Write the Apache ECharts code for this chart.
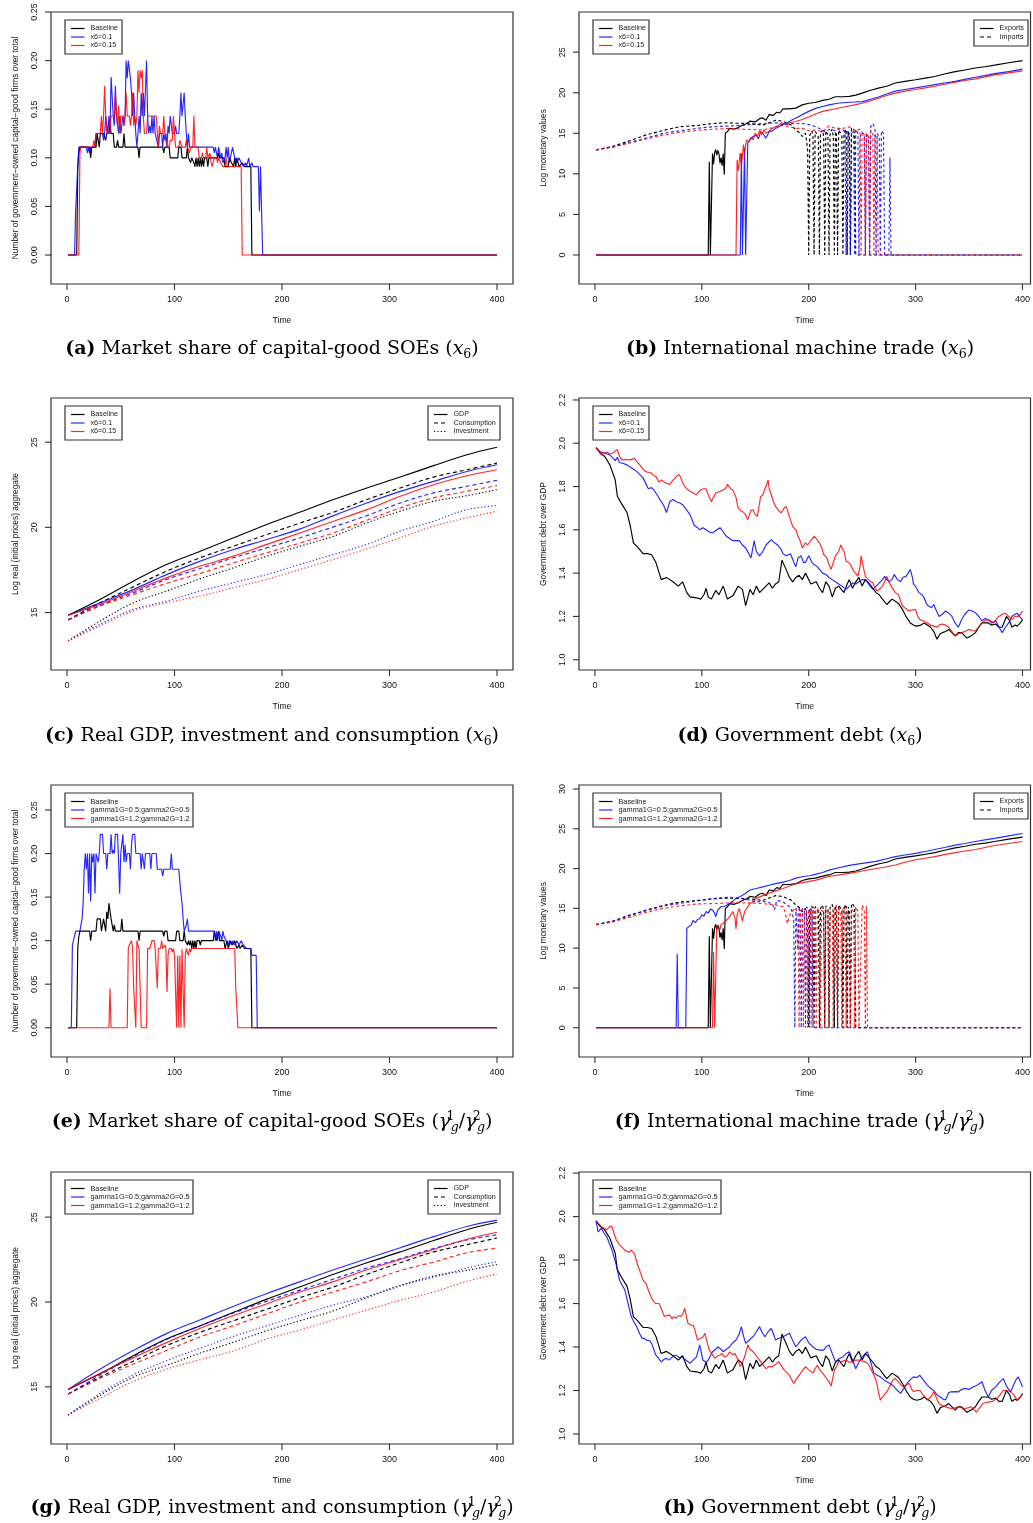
<!DOCTYPE html>
<html><head><meta charset="utf-8">
<script src="https://cdn.jsdelivr.net/npm/echarts@6/dist/echarts.min.js"></script>
<style>
html,body{margin:0;padding:0;background:#fff;}
.p{position:absolute;}
</style></head>
<body>
<div id="pa" class="p" style="left:0;top:0;width:520px;height:387px"></div>
<div id="pb" class="p" style="left:520px;top:0;width:513px;height:387px"></div>
<div id="pc" class="p" style="left:0;top:386px;width:520px;height:387px"></div>
<div id="pd" class="p" style="left:520px;top:386px;width:513px;height:387px"></div>
<div id="pe" class="p" style="left:0;top:773px;width:520px;height:387px"></div>
<div id="pf" class="p" style="left:520px;top:773px;width:513px;height:387px"></div>
<div id="pg" class="p" style="left:0;top:1160px;width:520px;height:363px"></div>
<div id="ph" class="p" style="left:520px;top:1160px;width:513px;height:363px"></div>
<script>
// ---------------- DATA ----------------
const xTicks = [0, 100, 200, 300, 400];
const shareTicks = [0, 0.05, 0.10, 0.15, 0.20, 0.25];
const tradeTicksB = [0, 5, 10, 15, 20, 25];
const tradeTicksF = [0, 5, 10, 15, 20, 25, 30];
const gdpTicks = [15, 20, 25];
const debtTicks = [1.0, 1.2, 1.4, 1.6, 1.8, 2.0, 2.2];

const scenX6 = ['Baseline', 'x6=0.1', 'x6=0.15'];
const scenG = ['Baseline', 'gamma1G=0.5;gamma2G=0.5', 'gamma1G=1.2;gamma2G=1.2'];
const tradeVars = ['Exports', 'Imports'];
const gdpVars = ['GDP', 'Consumption', 'Investment'];

// (a) market share of capital-good SOEs, x6
const shareBaseA = [[1,0],[9,0],[10,0.09],[11,0.105],[12,0.111],[21,0.111],[22,0.1],[23,0.111],[27,0.111],[28,0.125],[29,0.125],[30,0.111],[31,0.125],[34,0.125],[35,0.125],[36,0.118],[37,0.125],[39,0.125],[40,0.133],[41,0.125],[43,0.125],[44,0.111],[46,0.111],[47,0.118],[48,0.111],[52,0.111],[53,0.125],[54,0.111],[66,0.111],[67,0.1],[68,0.111],[89,0.111],[90,0.105],[91,0.111],[95,0.111],[96,0.1],[103,0.1],[104,0.111],[106,0.111],[107,0.1],[111,0.1],[112,0.111],[113,0.1],[115,0.095],[116,0.1],[118,0.095],[119,0.091],[120,0.1],[121,0.091],[122,0.1],[123,0.091],[124,0.1],[125,0.091],[126,0.1],[127,0.091],[128,0.1],[130,0.1],[131,0.091],[132,0.1],[140,0.1],[141,0.105],[142,0.1],[146,0.1],[147,0.091],[150,0.091],[151,0.1],[153,0.095],[155,0.091],[156,0.1],[157,0.091],[158,0.1],[160,0.091],[163,0.095],[165,0.091],[171,0.091],[172,0],[400,0]];
const shareX1A = [[1,0],[7,0],[8,0.045],[9,0.045],[10,0.091],[11,0.111],[18,0.111],[19,0.105],[20,0.111],[21,0.105],[22,0.111],[26,0.111],[27,0.125],[33,0.125],[34,0.118],[35,0.125],[36,0.143],[37,0.143],[38,0.125],[39,0.143],[40,0.125],[41,0.183],[42,0.183],[43,0.143],[44,0.133],[45,0.174],[46,0.143],[47,0.143],[48,0.125],[49,0.143],[50,0.125],[52,0.143],[53,0.133],[54,0.143],[55,0.2],[56,0.182],[57,0.2],[58,0.2],[59,0.182],[60,0.167],[61,0.143],[62,0.167],[63,0.143],[64,0.125],[65,0.111],[66,0.125],[67,0.143],[68,0.125],[69,0.167],[70,0.143],[71,0.167],[72,0.143],[74,0.2],[75,0.143],[76,0.125],[77,0.133],[78,0.125],[79,0.143],[80,0.125],[81,0.143],[82,0.125],[85,0.111],[86,0.125],[88,0.125],[89,0.111],[90,0.125],[91,0.118],[92,0.125],[93,0.111],[94,0.133],[95,0.125],[96,0.143],[97,0.143],[98,0.125],[100,0.125],[101,0.133],[102,0.125],[104,0.125],[105,0.143],[106,0.167],[107,0.143],[108,0.143],[109,0.167],[110,0.143],[111,0.125],[112,0.111],[113,0.125],[114,0.111],[136,0.111],[137,0.105],[138,0.111],[140,0.1],[141,0.111],[143,0.1],[144,0.105],[145,0.095],[147,0.1],[148,0.111],[149,0.1],[150,0.111],[151,0.095],[152,0.1],[154,0.111],[155,0.111],[156,0.1],[158,0.095],[160,0.1],[162,0.095],[164,0.091],[166,0.095],[167,0.091],[169,0.1],[170,0.091],[172,0.095],[173,0.091],[178,0.091],[179,0.045],[180,0.091],[181,0.091],[182,0],[400,0]];
const shareX2A = [[1,0],[11,0],[12,0.105],[13,0.111],[24,0.111],[25,0.118],[26,0.111],[27,0.125],[31,0.125],[32,0.143],[33,0.125],[34,0.143],[35,0.174],[36,0.143],[37,0.125],[40,0.125],[41,0.143],[44,0.143],[45,0.167],[46,0.143],[47,0.133],[48,0.154],[49,0.125],[50,0.143],[52,0.143],[53,0.133],[54,0.143],[55,0.167],[56,0.143],[58,0.143],[59,0.133],[60,0.143],[61,0.167],[62,0.133],[63,0.143],[64,0.133],[65,0.143],[66,0.19],[67,0.167],[68,0.19],[69,0.182],[70,0.19],[71,0.143],[72,0.125],[74,0.125],[75,0.143],[83,0.143],[84,0.125],[85,0.111],[86,0.133],[87,0.125],[89,0.125],[90,0.143],[91,0.125],[93,0.111],[95,0.111],[96,0.118],[98,0.118],[99,0.143],[100,0.125],[101,0.111],[104,0.111],[105,0.118],[107,0.111],[110,0.111],[111,0.118],[112,0.111],[114,0.105],[115,0.111],[117,0.111],[118,0.143],[119,0.111],[122,0.111],[123,0.1],[125,0.1],[126,0.105],[127,0.1],[129,0.1],[130,0.111],[131,0.1],[133,0.105],[134,0.095],[135,0.091],[137,0.1],[139,0.1],[140,0.095],[141,0.1],[143,0.095],[145,0.091],[147,0.091],[148,0.1],[149,0.091],[162,0.091],[163,0],[400,0]];

// (e) market share, gamma
const shareBaseE = [[1,0],[9,0],[10,0.091],[11,0.105],[12,0.111],[21,0.111],[22,0.1],[23,0.111],[27,0.111],[28,0.125],[31,0.125],[32,0.111],[33,0.111],[34,0.125],[35,0.125],[36,0.111],[37,0.133],[38,0.125],[39,0.143],[40,0.143],[41,0.125],[42,0.118],[43,0.111],[44,0.118],[45,0.111],[50,0.111],[51,0.125],[52,0.111],[66,0.111],[67,0.1],[68,0.111],[89,0.111],[90,0.105],[91,0.111],[93,0.111],[94,0.1],[101,0.1],[102,0.111],[104,0.111],[105,0.1],[108,0.1],[109,0.111],[110,0.1],[112,0.095],[113,0.1],[114,0.095],[115,0.1],[116,0.091],[117,0.1],[118,0.091],[119,0.1],[120,0.091],[121,0.1],[123,0.1],[124,0.095],[125,0.1],[136,0.1],[137,0.111],[138,0.105],[139,0.1],[140,0.1],[141,0.111],[142,0.1],[146,0.1],[147,0.091],[149,0.1],[150,0.091],[152,0.1],[154,0.095],[156,0.1],[158,0.091],[160,0.095],[161,0.091],[163,0.095],[165,0.091],[171,0.091],[172,0],[400,0]];
const shareG05E = [[1,0],[4,0],[5,0.095],[6,0.1],[8,0.111],[12,0.111],[13,0.118],[14,0.125],[15,0.143],[16,0.182],[17,0.2],[18,0.182],[19,0.2],[20,0.154],[21,0.2],[22,0.145],[23,0.2],[24,0.19],[25,0.2],[26,0.154],[27,0.2],[28,0.2],[29,0.19],[30,0.2],[31,0.222],[33,0.222],[34,0.2],[36,0.2],[37,0.182],[38,0.2],[40,0.2],[41,0.222],[42,0.2],[43,0.204],[44,0.2],[45,0.222],[47,0.222],[48,0.19],[49,0.154],[50,0.2],[51,0.2],[52,0.222],[53,0.19],[54,0.21],[55,0.19],[56,0.2],[58,0.2],[59,0.182],[60,0.21],[61,0.222],[63,0.222],[64,0.2],[68,0.2],[69,0.182],[70,0.2],[72,0.182],[73,0.2],[77,0.2],[78,0.182],[79,0.2],[83,0.2],[84,0.182],[88,0.182],[89,0.174],[90,0.182],[96,0.182],[97,0.2],[98,0.182],[104,0.182],[105,0.167],[106,0.154],[107,0.143],[108,0.125],[109,0.111],[110,0.111],[111,0.118],[112,0.125],[113,0.111],[137,0.111],[138,0.1],[139,0.111],[140,0.1],[141,0.111],[143,0.105],[144,0.1],[145,0.111],[146,0.105],[148,0.1],[150,0.095],[151,0.1],[153,0.095],[154,0.1],[156,0.095],[158,0.1],[160,0.095],[162,0.1],[164,0.095],[167,0.091],[171,0.091],[172,0.083],[176,0.083],[177,0],[400,0]];
const shareG12E = [[1,0],[39,0],[40,0.045],[41,0],[56,0],[57,0.091],[58,0.095],[60,0.1],[61,0.091],[62,0.045],[63,0.045],[64,0],[65,0.1],[66,0.095],[67,0.091],[68,0.091],[69,0],[74,0],[75,0.091],[77,0.091],[79,0.1],[81,0.1],[82,0.091],[83,0.091],[84,0.045],[85,0.091],[87,0.091],[88,0.1],[89,0.091],[91,0.095],[92,0.091],[93,0.041],[94,0.083],[95,0.091],[97,0.091],[98,0.087],[99,0.091],[100,0.083],[101,0.083],[102,0],[103,0.083],[104,0],[105,0.083],[106,0],[107,0.09],[108,0.09],[109,0],[110,0.083],[111,0.091],[112,0.087],[113,0.083],[114,0.091],[115,0.087],[116,0.091],[156,0.091],[157,0.045],[158,0.045],[159,0],[400,0]];

// (b)/(f) international machine trade, log values
const exBase = [[1,0],[106,0],[107,11.5],[108,0],[109,0],[110,12.5],[111,11.2],[112,12.6],[113,13.0],[114,12.3],[115,12.9],[116,12.5],[117,11.3],[118,12.0],[119,11.0],[120,12.5],[121,9.9],[122,15.0],[124,15.2],[126,15.6],[130,15.5],[134,15.7],[138,16.0],[142,16.2],[145,16.5],[150,16.4],[154,16.8],[157,16.9],[160,16.6],[163,17.3],[167,17.2],[170,17.6],[173,17.5],[176,18.0],[182,18.0],[188,18.1],[194,18.5],[200,18.7],[206,18.8],[213,19.05],[219,19.2],[225,19.5],[232,19.5],[238,19.55],[244,19.7],[250,19.95],[258,20.3],[266,20.6],[273,20.8],[281,21.2],[290,21.4],[300,21.6],[309,21.8],[318,22.0],[327,22.3],[337,22.6],[346,22.8],[356,23.05],[365,23.2],[374,23.4],[387,23.7],[400,23.95]];
const imBase = [[1,12.95],[17,13.4],[33,14.1],[48,14.8],[64,15.35],[79,15.8],[95,15.95],[110,16.2],[123,16.3],[132,16.25],[145,16.2],[157,16.0],[163,16.3],[169,16.6],[175,16.5],[179,16.3],[184,16.0],[188,15.4],[192,15.0],[194,14.6],[197,15.0],[199,13.0],[200,0],[201,14.8],[203,15.3],[204,14.6],[205,0],[206,15.2],[208,14.9],[209,14.5],[210,0],[211,15.0],[213,15.4],[214,14.6],[215,0],[216,15.3],[218,14.8],[219,0],[220,15.1],[222,15.5],[223,14.5],[224,0],[225,15.2],[226,14.8],[227,0],[228,15.4],[230,15.0],[231,14.6],[232,0],[233,15.0],[235,15.5],[236,0],[237,15.2],[238,14.6],[239,0],[240,15.6],[242,15.4],[243,14.8],[244,0],[400,0]];
const exX1 = [[1,0],[136,0],[137,12.5],[138,0],[139,0],[140,13.2],[141,0],[142,0],[143,13.8],[145,14.2],[148,14.6],[151,14.8],[153,14.3],[155,15.2],[157,15.0],[160,14.4],[163,15.2],[166,15.3],[169,15.6],[172,15.8],[176,16.05],[180,16.3],[185,16.7],[190,17.0],[194,17.3],[200,17.7],[207,18.1],[213,18.3],[219,18.5],[227,18.7],[235,18.8],[243,18.85],[250,18.9],[258,19.2],[266,19.5],[273,19.85],[281,20.2],[290,20.4],[300,20.6],[309,20.8],[318,21.0],[327,21.2],[337,21.4],[346,21.65],[356,21.9],[365,22.1],[374,22.35],[387,22.6],[400,22.9]];
const imX1 = [[1,12.95],[17,13.35],[33,13.9],[48,14.4],[64,15.0],[79,15.3],[95,15.6],[110,15.8],[126,15.9],[140,16.0],[157,16.2],[170,16.3],[176,16.05],[185,16.2],[194,16.2],[203,16.0],[210,15.6],[215,15.2],[220,15.5],[225,15.3],[230,15.6],[234,15.2],[235,0],[236,15.4],[238,15.0],[239,0],[240,15.3],[242,14.8],[243,0],[244,15.5],[246,15.0],[247,0],[248,14.5],[250,15.2],[252,14.6],[253,0],[254,15.0],[256,14.5],[257,0],[258,15.8],[260,16.2],[262,15.6],[263,0],[264,15.0],[266,14.5],[267,0],[268,15.3],[270,15.0],[271,0],[275,0],[276,12.0],[277,0],[400,0]];
const exX2 = [[1,0],[132,0],[133,11.7],[134,10.4],[135,11.5],[136,12.6],[137,11.0],[138,12.2],[139,13.6],[140,12.4],[141,13.5],[142,14.2],[144,13.9],[146,14.5],[148,14.2],[150,15.0],[152,14.6],[154,15.3],[156,14.8],[158,15.4],[160,15.0],[163,15.3],[166,15.6],[169,15.8],[172,16.0],[175,16.3],[178,16.1],[182,16.3],[188,16.45],[194,16.7],[200,17.0],[207,17.4],[213,17.7],[224,18.0],[235,18.3],[243,18.5],[250,18.7],[258,19.0],[266,19.35],[273,19.65],[281,19.95],[290,20.2],[300,20.4],[309,20.6],[318,20.8],[327,21.05],[337,21.3],[346,21.5],[356,21.7],[365,21.95],[374,22.2],[387,22.45],[400,22.7]];
const imX2 = [[1,12.95],[17,13.3],[33,13.8],[48,14.3],[64,14.8],[79,15.1],[95,15.35],[110,15.5],[126,15.6],[140,15.5],[157,15.4],[170,15.8],[176,16.0],[182,15.8],[188,15.6],[194,15.6],[200,15.3],[207,15.4],[213,15.2],[219,15.9],[225,15.6],[232,15.6],[238,15.8],[244,15.3],[248,15.5],[249,0],[250,15.2],[252,14.8],[253,0],[254,15.0],[256,14.7],[257,0],[258,15.4],[260,15.0],[261,0],[262,14.8],[264,14.2],[265,0],[400,0]];
const exG05 = [[1,0],[76,0],[77,9.3],[78,0],[85,0],[86,12.5],[88,12.7],[90,12.9],[92,13.5],[94,13.2],[96,13.6],[98,13.7],[100,14.2],[102,14.0],[104,14.6],[106,14.4],[108,14.9],[110,14.8],[112,14.4],[113,13.95],[115,14.8],[118,15.2],[122,15.3],[126,15.6],[129,15.9],[132,16.25],[136,16.5],[140,16.8],[145,17.3],[151,17.5],[157,17.7],[163,17.9],[169,18.1],[176,18.3],[182,18.5],[188,18.8],[195,19.0],[201,19.1],[207,19.3],[213,19.5],[219,19.8],[228,20.1],[238,20.4],[250,20.65],[263,20.9],[272,21.2],[281,21.5],[290,21.7],[300,21.9],[309,22.15],[318,22.4],[327,22.65],[337,22.95],[346,23.15],[356,23.4],[365,23.6],[374,23.8],[387,24.1],[400,24.4]];
const imG05 = [[1,12.95],[17,13.4],[33,14.2],[48,14.7],[64,15.3],[79,15.6],[95,15.95],[113,16.25],[126,16.4],[138,16.25],[145,16.0],[151,15.8],[157,15.9],[163,15.7],[166,15.6],[168,14.8],[170,16.0],[174,15.9],[176,15.8],[179,15.5],[182,15.2],[184,14.8],[186,13.5],[187,0],[188,15.0],[189,12.0],[190,9.8],[191,15.2],[192,14.5],[193,0],[194,15.0],[196,14.6],[197,0],[198,15.2],[200,14.8],[201,0],[202,15.0],[203,14.5],[204,0],[400,0]];
const exG12 = [[1,0],[110,0],[111,9.5],[112,0],[113,0],[114,12.5],[115,12.8],[117,12.3],[118,13.0],[120,13.1],[123,13.5],[126,13.95],[129,14.6],[131,13.8],[132,12.4],[133,14.2],[135,15.0],[137,14.0],[138,13.4],[140,14.6],[142,15.0],[145,15.6],[148,15.8],[151,16.25],[157,16.6],[163,16.9],[169,17.2],[176,17.5],[182,17.8],[188,18.1],[197,18.3],[207,18.55],[213,18.8],[219,19.0],[228,19.2],[238,19.4],[250,19.7],[263,20.0],[272,20.2],[281,20.45],[290,20.8],[300,21.1],[309,21.3],[318,21.5],[327,21.75],[337,22.0],[346,22.2],[356,22.4],[365,22.65],[374,22.9],[387,23.15],[400,23.4]];
const imG12 = [[1,12.95],[17,13.3],[33,13.9],[48,14.5],[64,15.0],[79,15.3],[95,15.55],[110,15.6],[126,15.7],[141,15.7],[157,15.6],[170,15.4],[176,15.2],[178,14.5],[180,13.1],[182,14.0],[184,14.6],[188,15.0],[190,14.2],[191,0],[192,14.8],[194,14.5],[195,0],[196,15.0],[198,14.6],[199,0],[200,14.8],[202,14.4],[203,0],[204,15.2],[206,14.8],[207,0],[208,15.0],[210,14.6],[211,0],[212,14.8],[214,14.4],[215,0],[216,15.0],[218,14.7],[219,0],[220,14.6],[222,14.2],[223,0],[224,15.2],[226,15.4],[227,0],[228,15.0],[230,14.5],[231,0],[232,15.2],[234,14.8],[235,0],[236,14.5],[238,14.0],[239,0],[240,15.0],[242,14.6],[243,0],[244,15.2],[246,14.6],[247,0],[250,15.4],[252,14.8],[253,0],[254,15.3],[255,0],[400,0]];

// (c)/(g) log real aggregates, read at these times
const gdpT = [1, 31, 62, 93, 124, 155, 186, 217, 248, 279, 310, 341, 372, 400];
const gdpBase = [14.84,15.78,16.85,17.83,18.6,19.39,20.17,20.9,21.63,22.31,22.95,23.62,24.26,24.7];
const conBase = [14.57,15.58,16.52,17.44,18.22,18.9,19.58,20.26,20.89,21.63,22.31,22.95,23.38,23.77];
const invBase = [13.34,14.51,15.58,16.27,16.99,17.63,18.31,18.9,19.48,20.26,20.95,21.53,21.86,22.21];
const gdpX1 = [14.84,15.58,16.36,17.24,18.02,18.7,19.29,19.91,20.69,21.43,22.11,22.7,23.28,23.67];
const conX1 = [14.57,15.43,16.17,16.95,17.59,18.22,18.8,19.39,20.03,20.69,21.43,22.02,22.41,22.76];
const invX1 = [13.34,14.32,15.19,15.68,16.27,16.75,17.24,17.83,18.41,19.0,19.78,20.36,21.04,21.28];
const gdpX2 = [14.84,15.49,16.27,17.05,17.73,18.31,19.0,19.68,20.36,21.04,21.82,22.5,23.03,23.38];
const conX2 = [14.57,15.39,16.07,16.72,17.3,17.92,18.51,19.09,19.68,20.42,21.14,21.73,22.12,22.45];
const invX2 = [13.34,14.22,15.1,15.58,15.97,16.46,16.95,17.53,18.12,18.74,19.39,20.07,20.56,20.95];
const gdpG05 = [14.84,16.05,17.15,18.15,18.95,19.75,20.5,21.2,21.9,22.55,23.2,23.85,24.45,24.82];
const conG05 = [14.57,15.7,16.8,17.8,18.6,19.35,20.05,20.7,21.35,22.0,22.55,23.15,23.65,23.96];
const invG05 = [13.34,14.62,15.72,16.55,17.28,17.98,18.6,19.22,19.82,20.32,20.98,21.45,22.0,22.38];
const gdpG12 = [14.84,15.8,16.72,17.62,18.45,19.2,19.9,20.6,21.2,21.9,22.5,23.1,23.7,24.11];
const conG12 = [14.57,15.5,16.35,17.15,17.95,18.6,19.3,20.0,20.6,21.2,21.85,22.35,22.9,23.17];
const invG12 = [13.34,14.33,15.33,16.05,16.6,17.12,17.82,18.35,18.95,19.53,20.1,20.58,21.22,21.65];

// (d)/(h) government debt over GDP
const debtBase = [[1,1.98],[5,1.954],[9,1.94],[14,1.90],[19,1.83],[21,1.755],[25,1.72],[30,1.68],[33,1.62],[36,1.54],[40,1.52],[45,1.49],[49,1.49],[53,1.485],[57,1.45],[62,1.37],[67,1.38],[70,1.37],[73,1.36],[78,1.34],[82,1.36],[86,1.31],[89,1.29],[95,1.286],[99,1.28],[102,1.3],[104,1.33],[106,1.29],[109,1.28],[113,1.32],[116,1.3],[120,1.34],[124,1.28],[129,1.295],[134,1.34],[138,1.325],[141,1.25],[145,1.325],[148,1.3],[151,1.34],[154,1.31],[157,1.325],[160,1.34],[163,1.355],[166,1.33],[169,1.35],[172,1.36],[175,1.46],[179,1.415],[182,1.38],[185,1.36],[188,1.38],[191,1.39],[194,1.37],[197,1.40],[202,1.35],[207,1.36],[210,1.33],[213,1.31],[216,1.36],[219,1.34],[222,1.29],[225,1.33],[228,1.34],[233,1.31],[236,1.35],[238,1.37],[241,1.33],[244,1.36],[247,1.38],[250,1.34],[253,1.37],[256,1.355],[260,1.33],[263,1.31],[266,1.3],[269,1.28],[273,1.255],[276,1.27],[278,1.28],[281,1.27],[284,1.26],[288,1.23],[291,1.20],[295,1.17],[298,1.16],[301,1.155],[305,1.16],[308,1.17],[311,1.16],[314,1.15],[317,1.13],[320,1.095],[323,1.12],[325,1.125],[328,1.13],[331,1.14],[334,1.125],[337,1.11],[340,1.125],[343,1.125],[346,1.11],[348,1.10],[352,1.11],[356,1.125],[359,1.15],[362,1.17],[365,1.17],[368,1.17],[371,1.16],[375,1.165],[378,1.15],[381,1.15],[385,1.20],[388,1.18],[390,1.15],[393,1.16],[395,1.155],[398,1.17],[400,1.185]];
const debtX1 = [[1,1.98],[5,1.96],[9,1.955],[14,1.946],[17,1.93],[19,1.92],[21,1.935],[23,1.91],[26,1.908],[30,1.9],[33,1.89],[36,1.88],[39,1.87],[42,1.855],[45,1.84],[48,1.81],[50,1.79],[53,1.795],[55,1.785],[59,1.755],[62,1.73],[64,1.716],[67,1.68],[70,1.73],[73,1.74],[76,1.73],[79,1.725],[82,1.716],[86,1.69],[89,1.67],[93,1.62],[96,1.61],[98,1.60],[101,1.61],[104,1.60],[107,1.59],[110,1.585],[114,1.6],[117,1.61],[120,1.59],[123,1.57],[126,1.56],[129,1.55],[132,1.55],[135,1.55],[138,1.53],[141,1.516],[144,1.49],[146,1.47],[149,1.55],[151,1.50],[154,1.48],[157,1.5],[160,1.53],[163,1.545],[165,1.555],[168,1.54],[171,1.53],[174,1.51],[176,1.49],[179,1.48],[183,1.49],[186,1.45],[188,1.43],[190,1.47],[193,1.48],[195,1.45],[197,1.45],[200,1.48],[203,1.45],[205,1.44],[208,1.43],[210,1.417],[213,1.40],[216,1.394],[219,1.38],[222,1.37],[225,1.36],[228,1.35],[231,1.34],[235,1.325],[238,1.34],[241,1.355],[244,1.35],[247,1.36],[250,1.37],[253,1.37],[256,1.35],[260,1.325],[263,1.34],[266,1.355],[269,1.37],[271,1.385],[273,1.37],[275,1.36],[278,1.37],[280,1.394],[283,1.37],[286,1.36],[288,1.38],[291,1.385],[293,1.4],[295,1.417],[297,1.38],[298,1.35],[301,1.33],[303,1.31],[306,1.3],[308,1.286],[310,1.26],[312,1.248],[315,1.24],[317,1.255],[320,1.22],[322,1.20],[325,1.21],[328,1.225],[331,1.215],[334,1.20],[337,1.17],[340,1.15],[343,1.185],[346,1.21],[350,1.23],[353,1.225],[356,1.217],[359,1.2],[362,1.18],[365,1.19],[368,1.185],[371,1.17],[375,1.18],[378,1.15],[381,1.125],[384,1.15],[387,1.17],[390,1.2],[393,1.21],[395,1.215],[397,1.2],[400,1.185]];
const debtX2 = [[1,1.98],[4,1.96],[6,1.946],[9,1.955],[11,1.96],[14,1.95],[17,1.955],[19,1.965],[21,1.97],[23,1.94],[25,1.923],[29,1.925],[33,1.923],[37,1.93],[40,1.91],[42,1.90],[45,1.88],[47,1.87],[50,1.865],[53,1.862],[55,1.85],[57,1.847],[60,1.82],[62,1.83],[64,1.823],[67,1.815],[70,1.81],[73,1.83],[75,1.84],[77,1.85],[79,1.855],[82,1.82],[84,1.80],[87,1.785],[89,1.778],[92,1.77],[95,1.762],[97,1.775],[99,1.785],[102,1.79],[104,1.79],[107,1.75],[109,1.73],[111,1.75],[113,1.77],[116,1.775],[120,1.785],[122,1.79],[124,1.81],[127,1.79],[129,1.785],[132,1.75],[134,1.70],[136,1.69],[138,1.685],[141,1.67],[143,1.647],[146,1.69],[148,1.693],[150,1.67],[152,1.662],[155,1.754],[157,1.76],[159,1.79],[160,1.80],[162,1.83],[163,1.79],[165,1.762],[167,1.73],[169,1.708],[172,1.69],[174,1.678],[177,1.70],[179,1.708],[182,1.66],[185,1.616],[188,1.60],[190,1.57],[192,1.55],[194,1.516],[197,1.54],[199,1.53],[202,1.55],[205,1.57],[207,1.56],[210,1.54],[212,1.52],[214,1.486],[217,1.47],[219,1.44],[221,1.417],[223,1.45],[225,1.48],[228,1.50],[230,1.53],[233,1.50],[235,1.455],[237,1.45],[239,1.44],[242,1.41],[244,1.40],[246,1.385],[248,1.43],[249,1.48],[251,1.43],[253,1.385],[256,1.37],[258,1.36],[260,1.355],[262,1.33],[264,1.317],[267,1.33],[269,1.34],[271,1.36],[273,1.385],[275,1.36],[278,1.333],[281,1.31],[284,1.30],[286,1.27],[288,1.248],[291,1.235],[294,1.225],[297,1.23],[300,1.232],[302,1.2],[304,1.185],[307,1.18],[311,1.17],[314,1.16],[317,1.155],[320,1.15],[322,1.16],[325,1.165],[328,1.16],[331,1.15],[334,1.13],[337,1.11],[340,1.12],[343,1.125],[346,1.13],[350,1.14],[353,1.135],[356,1.133],[359,1.15],[362,1.17],[365,1.18],[367,1.185],[370,1.18],[373,1.17],[376,1.19],[378,1.20],[381,1.21],[384,1.215],[387,1.20],[390,1.185],[393,1.2],[396,1.20],[398,1.21],[400,1.225]];
const debtG05 = [[1,1.98],[3,1.93],[6,1.946],[9,1.92],[11,1.908],[14,1.87],[16,1.846],[18,1.81],[20,1.777],[23,1.708],[26,1.68],[28,1.662],[31,1.60],[34,1.54],[36,1.52],[39,1.494],[42,1.46],[44,1.44],[46,1.44],[48,1.432],[51,1.43],[53,1.417],[55,1.39],[57,1.363],[60,1.345],[62,1.332],[65,1.345],[67,1.348],[69,1.34],[71,1.348],[74,1.36],[76,1.363],[79,1.35],[82,1.355],[85,1.34],[89,1.325],[92,1.34],[95,1.355],[98,1.41],[101,1.34],[104,1.33],[106,1.34],[108,1.36],[110,1.378],[113,1.39],[115,1.40],[118,1.39],[120,1.378],[123,1.39],[126,1.40],[129,1.42],[132,1.432],[135,1.46],[137,1.494],[139,1.45],[141,1.417],[144,1.43],[146,1.44],[148,1.447],[151,1.47],[154,1.494],[156,1.47],[159,1.447],[162,1.47],[165,1.486],[167,1.46],[169,1.432],[172,1.44],[176,1.447],[179,1.455],[182,1.463],[185,1.43],[188,1.40],[191,1.42],[193,1.432],[195,1.44],[197,1.447],[200,1.42],[204,1.40],[207,1.39],[210,1.386],[214,1.386],[216,1.40],[219,1.41],[222,1.37],[225,1.332],[228,1.345],[232,1.355],[235,1.37],[238,1.378],[241,1.34],[244,1.30],[247,1.33],[250,1.355],[253,1.37],[255,1.378],[258,1.33],[261,1.28],[264,1.27],[267,1.263],[270,1.25],[273,1.24],[277,1.23],[280,1.217],[283,1.20],[286,1.187],[289,1.21],[292,1.232],[295,1.25],[298,1.263],[301,1.26],[304,1.27],[307,1.25],[311,1.225],[314,1.21],[317,1.20],[320,1.18],[323,1.17],[326,1.16],[328,1.156],[331,1.19],[333,1.194],[337,1.195],[340,1.194],[343,1.205],[346,1.21],[350,1.205],[354,1.217],[358,1.225],[362,1.24],[365,1.2],[368,1.17],[371,1.2],[375,1.217],[378,1.235],[382,1.255],[385,1.22],[389,1.194],[392,1.23],[394,1.25],[396,1.263],[398,1.24],[400,1.217]];
const debtG12 = [[1,1.98],[4,1.965],[6,1.954],[9,1.945],[11,1.94],[14,1.955],[16,1.954],[18,1.92],[20,1.892],[23,1.87],[25,1.862],[28,1.845],[30,1.84],[32,1.835],[34,1.846],[37,1.83],[40,1.777],[42,1.75],[45,1.708],[48,1.69],[50,1.662],[53,1.624],[55,1.61],[57,1.60],[60,1.60],[62,1.578],[65,1.54],[67,1.545],[70,1.547],[72,1.53],[74,1.54],[76,1.532],[78,1.545],[80,1.54],[82,1.55],[84,1.578],[87,1.509],[90,1.50],[92,1.50],[94,1.47],[96,1.432],[99,1.44],[101,1.445],[103,1.463],[105,1.42],[107,1.386],[110,1.365],[112,1.348],[115,1.36],[117,1.363],[119,1.37],[121,1.355],[124,1.36],[126,1.378],[129,1.365],[131,1.37],[134,1.34],[136,1.31],[138,1.33],[140,1.355],[143,1.41],[145,1.39],[148,1.378],[151,1.36],[154,1.34],[157,1.32],[160,1.30],[163,1.31],[166,1.31],[169,1.32],[172,1.332],[175,1.31],[177,1.294],[180,1.28],[182,1.27],[184,1.25],[186,1.232],[188,1.25],[191,1.27],[194,1.29],[197,1.31],[200,1.295],[204,1.28],[206,1.30],[208,1.317],[211,1.29],[213,1.28],[216,1.26],[219,1.24],[221,1.22],[224,1.294],[226,1.31],[228,1.332],[232,1.335],[235,1.34],[238,1.33],[241,1.332],[244,1.34],[247,1.34],[250,1.335],[253,1.332],[256,1.32],[258,1.30],[261,1.27],[263,1.248],[265,1.2],[267,1.156],[269,1.17],[272,1.187],[275,1.21],[277,1.232],[279,1.25],[281,1.255],[284,1.24],[288,1.217],[291,1.225],[294,1.232],[296,1.21],[298,1.194],[301,1.2],[304,1.20],[307,1.18],[311,1.156],[314,1.17],[317,1.194],[320,1.16],[322,1.14],[325,1.13],[328,1.125],[331,1.12],[334,1.117],[337,1.12],[340,1.125],[343,1.12],[346,1.117],[349,1.12],[352,1.125],[355,1.11],[357,1.10],[360,1.12],[363,1.14],[366,1.145],[369,1.148],[372,1.15],[376,1.163],[379,1.18],[382,1.20],[385,1.20],[389,1.194],[392,1.18],[395,1.156],[398,1.17],[400,1.187]];

// ---------------- STYLE / BUILD ----------------
const SANS = '"Liberation Sans", Arial, Helvetica, sans-serif';
const SERIF = '"DejaVu Serif", "Liberation Serif", serif';
const CAPFS = 19, CAPSM = 12.5;
const BLACK = '#000000', BLUE = 'rgba(0,0,255,0.85)', RED = 'rgba(255,0,0,0.85)';
const SOLID = 'solid', DASH = [4, 3], DOT = [1.2, 2.2], IMPDASH = [3, 2.5];
const zipT = (ts, vs) => ts.map((t, i) => [t, vs[i]]);

const capRich = {
  b: {fontFamily: SERIF, fontSize: CAPFS, fontWeight: 'bold', fill: '#000'},
  i: {fontFamily: SERIF, fontSize: CAPFS, fontStyle: 'italic', fill: '#000'},
  sub: {fontFamily: SERIF, fontSize: CAPSM, fontStyle: 'italic', fill: '#000', verticalAlign: 'bottom', lineHeight: 13},
  subn: {fontFamily: SERIF, fontSize: CAPSM, fill: '#000', verticalAlign: 'bottom', lineHeight: 13},
  sup: {fontFamily: SERIF, fontSize: CAPSM, fill: '#000', verticalAlign: 'top', lineHeight: 13, width: 0.5}
};
const X6 = '({i|x}{subn|6})';
const GAM = '({i|γ}{sup|1}{sub|g}/{i|γ}{sup|2}{sub|g})';

function legend(x, y, w, h, labels, colors, dashes, fs) {
  const out = [{type: 'rect', shape: {x: x, y: y, width: w, height: h}, style: {fill: '#fff', stroke: '#333', lineWidth: 1.2}, z: 100}];
  labels.forEach((lab, i) => {
    const yy = y + 8.5 + i * 8.5;
    out.push({type: 'line', shape: {x1: x + 6, y1: yy, x2: x + 19.5, y2: yy}, style: {stroke: colors[i], lineWidth: 1.2, lineDash: dashes[i] === SOLID ? null : dashes[i]}, z: 101});
    out.push({type: 'text', x: x + 25.5, y: yy, style: {text: lab, fontSize: fs, fontFamily: SANS, fill: '#222', align: 'left', verticalAlign: 'middle'}, z: 101});
  });
  return out;
}

function line(data, color, dash, smooth) {
  return {type: 'line', data: data, showSymbol: false, symbol: 'none', silent: true, animation: false, smooth: smooth || false,
    lineStyle: {color: color, width: 1.15, type: dash}, emphasis: {disabled: true}};
}

// outward tick marks, positioned through the axes' own scales
function tickSeries(vals, isX, xmin, ymin) {
  return {type: 'custom', silent: true, clip: false, animation: false, z: 1,
    data: vals.map(v => [v]),
    renderItem: function (params, api) {
      const v = api.value(0);
      const p = isX ? api.coord([v, ymin]) : api.coord([xmin, v]);
      const shape = isX ? {x1: p[0], y1: p[1], x2: p[0], y2: p[1] + 6} : {x1: p[0] - 6, y1: p[1], x2: p[0], y2: p[1]};
      return {type: 'line', shape: shape, style: {stroke: '#333', lineWidth: 1.1, fill: null}};
    }};
}

function panel(id, cfg) {
  const right = cfg.right;
  const chart = echarts.init(document.getElementById(id), null, {renderer: 'canvas'});
  const gl = right ? 59 : 51, gw = right ? 453 : 462, gt = 12, gh = 272;
  const xmin = -14.9, xmax = right ? 407.5 : 414.9;
  const axisTxt = {fontFamily: SANS, fontSize: 9, color: '#111'};
  const cap = {type: 'text', x: right ? 280 : 272, y: cfg.capY || 349, z: 100,
    style: {text: cfg.caption, rich: capRich, fontFamily: SERIF, fontSize: CAPFS, fill: '#000', align: 'center', verticalAlign: 'middle', lineHeight: 24}};
  const option = {
    animation: false,
    grid: {left: gl, top: gt, width: gw, height: gh, show: true, borderColor: '#333', borderWidth: 1.2},
    xAxis: {type: 'value', min: xmin, max: xmax, position: 'bottom',
      axisLine: {show: false, onZero: false}, splitLine: {show: false}, axisTick: {show: false},
      axisLabel: Object.assign({customValues: xTicks, margin: 11}, axisTxt),
      name: 'Time', nameLocation: 'middle', nameGap: 32,
      nameTextStyle: {fontFamily: SANS, fontSize: 8.6, color: '#111'}},
    yAxis: {type: 'value', min: cfg.ymin, max: cfg.ymax, position: 'left',
      axisLine: {show: false, onZero: false}, splitLine: {show: false}, axisTick: {show: false},
      axisLabel: Object.assign({customValues: cfg.yticks, margin: 11.5, rotate: 90, formatter: v => v.toFixed(cfg.dec)}, axisTxt),
      name: cfg.yname, nameLocation: 'middle', nameGap: 31.5, nameRotate: 90,
      nameTextStyle: {fontFamily: SANS, fontSize: 8.4, color: '#111'}},
    series: cfg.series.concat([tickSeries(xTicks, true, xmin, cfg.ymin), tickSeries(cfg.yticks, false, xmin, cfg.ymin)]),
    graphic: cfg.legends.concat([cap])
  };
  chart.setOption(option);
}

const C3 = [BLACK, BLUE, RED];
const S3 = [SOLID, SOLID, SOLID];
const SM = 0.35;

// (a)
panel('pa', {right: false, ymin: -0.0298, ymax: 0.25, yticks: shareTicks, dec: 2,
  yname: 'Number of government\u2212owned capital\u2212good firms over total',
  series: [line(shareBaseA, BLACK, SOLID), line(shareX1A, BLUE, SOLID), line(shareX2A, RED, SOLID)],
  legends: legend(65, 20, 57, 34, scenX6, C3, S3, 7.2),
  caption: '{b|(a)} Market share of capital-good SOEs ' + X6});

// (b)
panel('pb', {right: true, ymin: -3.58, ymax: 29.95, yticks: tradeTicksB, dec: 0,
  yname: 'Log monetary values',
  series: [line(exBase, BLACK, SOLID), line(imBase, BLACK, IMPDASH), line(exX1, BLUE, SOLID), line(imX1, BLUE, IMPDASH), line(exX2, RED, SOLID), line(imX2, RED, IMPDASH)],
  legends: legend(73, 20, 56, 34, scenX6, C3, S3, 7.2).concat(legend(454, 20, 54, 26, tradeVars, [BLACK, BLACK], [SOLID, DASH], 7.2)),
  caption: '{b|(b)} International machine trade ' + X6});

// (c)
panel('pc', {right: false, ymin: 11.63, ymax: 27.59, yticks: gdpTicks, dec: 0,
  yname: 'Log real (initial prices) aggregate',
  series: [line(zipT(gdpT, gdpBase), BLACK, SOLID, SM), line(zipT(gdpT, conBase), BLACK, DASH, SM), line(zipT(gdpT, invBase), BLACK, DOT, SM),
           line(zipT(gdpT, gdpX1), BLUE, SOLID, SM), line(zipT(gdpT, conX1), BLUE, DASH, SM), line(zipT(gdpT, invX1), BLUE, DOT, SM),
           line(zipT(gdpT, gdpX2), RED, SOLID, SM), line(zipT(gdpT, conX2), RED, DASH, SM), line(zipT(gdpT, invX2), RED, DOT, SM)],
  legends: legend(65, 20, 57, 34, scenX6, C3, S3, 7.2).concat(legend(428, 20, 72, 34, gdpVars, [BLACK, BLACK, BLACK], [SOLID, DASH, DOT], 7.2)),
  caption: '{b|(c)} Real GDP, investment and consumption ' + X6, capY: 350});

// (d)
panel('pd', {right: true, ymin: 0.9525, ymax: 2.209, yticks: debtTicks, dec: 1,
  yname: 'Government debt over GDP',
  series: [line(debtBase, BLACK, SOLID), line(debtX1, BLUE, SOLID), line(debtX2, RED, SOLID)],
  legends: legend(73, 20, 56, 34, scenX6, C3, S3, 7.2),
  caption: '{b|(d)} Government debt ' + X6, capY: 350});

// (e)
panel('pe', {right: false, ymin: -0.0336, ymax: 0.2787, yticks: shareTicks, dec: 2,
  yname: 'Number of government\u2212owned capital\u2212good firms over total',
  series: [line(shareBaseE, BLACK, SOLID), line(shareG05E, BLUE, SOLID), line(shareG12E, RED, SOLID)],
  legends: legend(65, 20, 128, 34, scenG, C3, S3, 7.3),
  caption: '{b|(e)} Market share of capital-good SOEs ' + GAM});

// (f)
panel('pf', {right: true, ymin: -3.68, ymax: 30.5, yticks: tradeTicksF, dec: 0,
  yname: 'Log monetary values',
  series: [line(exBase, BLACK, SOLID), line(imBase, BLACK, IMPDASH), line(exG05, BLUE, SOLID), line(imG05, BLUE, IMPDASH), line(exG12, RED, SOLID), line(imG12, RED, IMPDASH)],
  legends: legend(73, 20, 128, 34, scenG, C3, S3, 7.3).concat(legend(454, 20, 54, 26, tradeVars, [BLACK, BLACK], [SOLID, DASH], 7.2)),
  caption: '{b|(f)} International machine trade ' + GAM});

// (g)
panel('pg', {right: false, ymin: 11.63, ymax: 27.66, yticks: gdpTicks, dec: 0,
  yname: 'Log real (initial prices) aggregate',
  series: [line(zipT(gdpT, gdpBase), BLACK, SOLID, SM), line(zipT(gdpT, conBase), BLACK, DASH, SM), line(zipT(gdpT, invBase), BLACK, DOT, SM),
           line(zipT(gdpT, gdpG05), BLUE, SOLID, SM), line(zipT(gdpT, conG05), BLUE, DASH, SM), line(zipT(gdpT, invG05), BLUE, DOT, SM),
           line(zipT(gdpT, gdpG12), RED, SOLID, SM), line(zipT(gdpT, conG12), RED, DASH, SM), line(zipT(gdpT, invG12), RED, DOT, SM)],
  legends: legend(65, 20, 128, 34, scenG, C3, S3, 7.3).concat(legend(428, 20, 72, 34, gdpVars, [BLACK, BLACK, BLACK], [SOLID, DASH, DOT], 7.2)),
  caption: '{b|(g)} Real GDP, investment and consumption ' + GAM, capY: 348});

// (h)
panel('ph', {right: true, ymin: 0.954, ymax: 2.205, yticks: debtTicks, dec: 1,
  yname: 'Government debt over GDP',
  series: [line(debtBase, BLACK, SOLID), line(debtG05, BLUE, SOLID), line(debtG12, RED, SOLID)],
  legends: legend(73, 20, 128, 34, scenG, C3, S3, 7.3),
  caption: '{b|(h)} Government debt ' + GAM, capY: 348});
</script>
</body></html>
